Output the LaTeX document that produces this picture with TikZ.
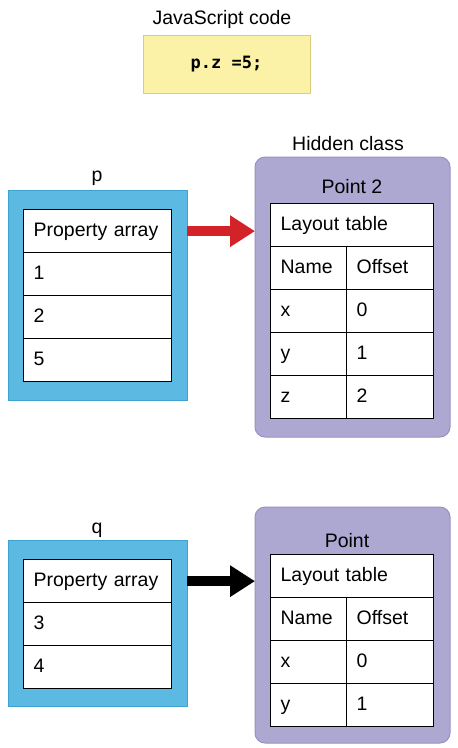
\documentclass[tikz,border=0pt]{standalone}
\usepackage{fontspec}
\setmainfont{Liberation Sans}
\newfontfamily\codefont{DejaVu Sans Mono}
\usetikzlibrary{arrows.meta}
\definecolor{objblue}{HTML}{5BB9E2}
\definecolor{objblueline}{HTML}{3EA3D3}
\definecolor{classpurple}{HTML}{ADA8D2}
\definecolor{classline}{HTML}{9892C2}
\definecolor{codeyellow}{HTML}{FBF2A8}
\definecolor{codeline}{HTML}{D8CE82}
\definecolor{arrowred}{HTML}{D42229}
\tikzset{
  lbl/.style={font=\fontsize{19.5}{22}\selectfont, inner sep=0pt, anchor=base},
  cell/.style={draw=black, fill=white, line width=1.3pt, anchor=north west,
    minimum height=43pt, inner xsep=10pt, inner ysep=0pt, align=left,
    text height=14pt, text depth=4pt,
    font=\fontsize{19.5}{22}\selectfont},
  objbox/.style={draw=objblueline, fill=objblue, line width=1pt},
  classbox/.style={draw=classline, fill=classpurple, line width=1pt, rounded corners=10pt},
  fatarrow/.style={line width=10pt, -{Triangle[length=25pt, width=30pt]}},
}
\begin{document}
\begin{tikzpicture}[x=1pt,y=-1pt]
\useasboundingbox (0,0) rectangle (458,748);

% JavaScript code
\node[lbl] (jslbl) at (222,24) {JavaScript code};
\node[draw=codeline, fill=codeyellow, line width=1pt, minimum width=167pt, minimum height=58pt,
  inner sep=0pt, font=\codefont\bfseries\fontsize{17}{20}\selectfont] (code) at (226.5,64) {p.z =5;};

% object p
\node[lbl] (plbl) at (97,181) {p};
\path[objbox] (8,190) rectangle (187,400);
\coordinate (pbox) at (187,295);
\node[cell, text width=128pt] (p0) at (23,209) {Property array};
\node[cell, text width=128pt] (p1) at (23,252) {1};
\node[cell, text width=128pt] (p2) at (23,295) {2};
\node[cell, text width=128pt] (p3) at (23,338) {5};

% hidden class Point 2
\node[lbl] (hclbl) at (348,150) {Hidden class};
\path[classbox] (255,157) rectangle (450,437);
\coordinate (hc) at (255,297);
\node[lbl] (hcname) at (352,193) {Point 2};
\node[cell, text width=143pt] (h0) at (270,203) {Layout table};
\node[cell, text width=56pt] (h1a) at (270,246) {Name};
\node[cell, text width=67pt] (h1b) at (346,246) {Offset};
\node[cell, text width=56pt] (h2a) at (270,289) {x};
\node[cell, text width=67pt] (h2b) at (346,289) {0};
\node[cell, text width=56pt] (h3a) at (270,332) {y};
\node[cell, text width=67pt] (h3b) at (346,332) {1};
\node[cell, text width=56pt] (h4a) at (270,375) {z};
\node[cell, text width=67pt] (h4b) at (346,375) {2};

\draw[fatarrow, arrowred] (pbox |- p0.east) -- (hc |- p0.east);

% object q
\node[lbl] (qlbl) at (97,533) {q};
\path[objbox] (8,540) rectangle (187,706);
\coordinate (qbox) at (187,623);
\node[cell, text width=128pt] (q0) at (23,559) {Property array};
\node[cell, text width=128pt] (q1) at (23,602) {3};
\node[cell, text width=128pt] (q2) at (23,645) {4};

% hidden class Point
\path[classbox] (255,507) rectangle (450,743);
\coordinate (pc) at (255,625);
\node[lbl] (pcname) at (347,547) {Point};
\node[cell, text width=143pt] (k0) at (270,554) {Layout table};
\node[cell, text width=56pt] (k1a) at (270,597) {Name};
\node[cell, text width=67pt] (k1b) at (346,597) {Offset};
\node[cell, text width=56pt] (k2a) at (270,640) {x};
\node[cell, text width=67pt] (k2b) at (346,640) {0};
\node[cell, text width=56pt] (k3a) at (270,683) {y};
\node[cell, text width=67pt] (k3b) at (346,683) {1};

\draw[fatarrow, black] (qbox |- q0.east) -- (pc |- q0.east);
\end{tikzpicture}
\end{document}
